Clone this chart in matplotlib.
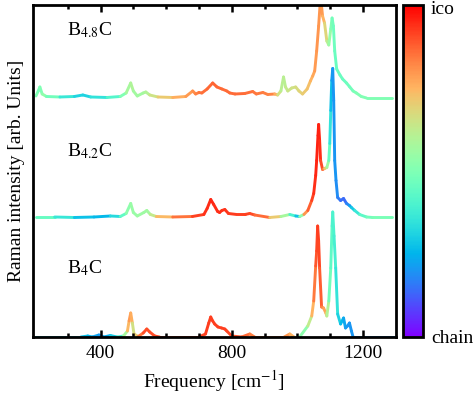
import numpy as np
import matplotlib
matplotlib.use("Agg")
import matplotlib.pyplot as plt
from matplotlib.collections import LineCollection
from matplotlib.colors import Normalize

plt.rcParams["font.family"] = ["Liberation Serif", "DejaVu Serif"]
plt.rcParams["mathtext.fontset"] = "stix"

# spectra: frequency, intensity (arb.), ico/chain character (0 = chain, 1 = ico)
x_b48 = [203, 210, 215, 222, 235, 276, 320, 346, 370, 420, 460, 478, 492, 500, 512, 530, 538, 550, 575,
         620, 660, 681, 690, 700, 709, 725, 742, 755, 770, 785, 794, 810, 840, 864, 875, 895, 910, 931, 940,
         950, 958, 964, 971, 983, 995, 1005, 1016, 1030, 1040, 1047, 1053, 1059, 1065, 1071, 1077, 1083,
         1090, 1096, 1102, 1106, 1110, 1114, 1120, 1130, 1138, 1150, 1160, 1170, 1180, 1195, 1211, 1290]
y_b48 = [0.01, 0.06, 0.10, 0.03, 0.005, 0.0, 0.005, 0.02, 0.0, -0.005, 0.005, 0.04, 0.14, 0.06, 0.01, 0.04,
         0.05, 0.02, 0.0, -0.005, 0.005, 0.06, 0.03, 0.045, 0.04, 0.08, 0.14, 0.10, 0.08, 0.06, 0.04, 0.03,
         0.035, 0.055, 0.03, 0.045, 0.025, 0.03, 0.02, 0.06, 0.20, 0.10, 0.06, 0.09, 0.10, 0.06, 0.03, 0.08,
         0.16, 0.21, 0.26, 0.46, 0.71, 1.0, 0.81, 0.74, 0.56, 0.52, 0.68, 0.79, 0.71, 0.46, 0.28, 0.22, 0.18,
         0.14, 0.10, 0.06, 0.04, 0.005, -0.01, -0.01]
c_b48 = [0.5, 0.5, 0.48, 0.52, 0.55, 0.4, 0.33, 0.3, 0.32, 0.38, 0.45, 0.55, 0.6, 0.58, 0.56, 0.57, 0.58,
         0.62, 0.68, 0.74, 0.78, 0.8, 0.82, 0.84, 0.85, 0.86, 0.87, 0.87, 0.86, 0.86, 0.86, 0.86, 0.86, 0.85,
         0.84, 0.84, 0.83, 0.82, 0.7, 0.62, 0.6, 0.62, 0.64, 0.65, 0.66, 0.68, 0.7, 0.72, 0.74, 0.76, 0.78,
         0.8, 0.8, 0.8, 0.78, 0.72, 0.65, 0.58, 0.52, 0.48, 0.47, 0.46, 0.46, 0.46, 0.46, 0.46, 0.47, 0.48,
         0.5, 0.5, 0.5, 0.5]

x_b42 = [203, 260, 320, 380, 430, 460, 478, 492, 500, 512, 532, 541, 552, 570, 620, 680, 715, 725, 736, 745,
         757, 763, 770, 779, 790, 815, 840, 855, 870, 916, 950, 977, 995, 1007, 1020, 1032, 1044, 1050, 1056,
         1059, 1063, 1065, 1068, 1071, 1077, 1083, 1090, 1096, 1099, 1102, 1105, 1108, 1111, 1114, 1118,
         1123, 1132, 1141, 1150, 1159, 1165, 1175, 1190, 1211, 1229, 1290]
y_b42 = [0.0, 0.0, -0.005, 0.0, 0.01, 0.005, 0.035, 0.135, 0.045, 0.01, 0.045, 0.065, 0.025, 0.005, 0.0,
         0.005, 0.025, 0.085, 0.175, 0.125, 0.055, 0.045, 0.065, 0.075, 0.035, 0.025, 0.025, 0.035, 0.02,
         -0.005, 0.005, 0.025, 0.01, 0.005, 0.025, 0.065, 0.165, 0.235, 0.415, 0.565, 0.815, 0.925, 0.765,
         0.565, 0.475, 0.485, 0.495, 0.565, 0.735, 1.065, 1.365, 1.485, 1.165, 0.565, 0.365, 0.195, 0.165,
         0.185, 0.135, 0.115, 0.095, 0.065, 0.025, 0.0, -0.005, -0.005]
c_b42 = [0.48, 0.42, 0.3, 0.25, 0.27, 0.38, 0.5, 0.55, 0.55, 0.55, 0.56, 0.56, 0.58, 0.68, 0.8, 0.9, 0.93,
         0.94, 0.95, 0.95, 0.94, 0.94, 0.94, 0.93, 0.93, 0.92, 0.92, 0.91, 0.9, 0.82, 0.6, 0.55, 0.25, 0.3,
         0.75, 0.85, 0.9, 0.93, 0.95, 0.95, 0.96, 0.96, 0.95, 0.93, 0.88, 0.8, 0.62, 0.5, 0.4, 0.3, 0.24, 0.2,
         0.2, 0.2, 0.2, 0.18, 0.15, 0.13, 0.15, 0.2, 0.25, 0.33, 0.4, 0.46, 0.48, 0.5]

x_b4 = [195, 340, 361, 375, 395, 410, 430, 450, 470, 482, 487, 492, 497, 502, 515, 530, 541, 550, 565, 580,
        700, 720, 730, 736, 742, 748, 758, 769, 779, 785, 800, 830, 855, 870, 960, 977, 990, 1007, 1032,
        1044, 1050, 1056, 1059, 1062, 1065, 1068, 1074, 1080, 1087, 1090, 1096, 1102, 1106, 1108, 1112,
        1117, 1123, 1132, 1141, 1147, 1153, 1159, 1165, 1170, 1300]
y_b4 = [0.0, 0.0, 0.01, 0.0, 0.02, 0.0, 0.015, 0.0, 0.01, 0.06, 0.16, 0.24, 0.14, 0.03, 0.005, 0.04, 0.08,
        0.05, 0.01, 0.0, 0.0, 0.03, 0.14, 0.20, 0.16, 0.13, 0.10, 0.09, 0.08, 0.06, 0.01, 0.0, 0.03, 0.0,
        0.0, 0.03, 0.0, 0.0, 0.11, 0.21, 0.36, 0.71, 0.86, 1.11, 0.96, 0.69, 0.30, 0.29, 0.24, 0.21, 0.36,
        0.69, 1.11, 1.25, 1.01, 0.69, 0.23, 0.13, 0.19, 0.09, 0.11, 0.14, 0.06, 0.0, 0.0]
c_b4 = [0.3, 0.3, 0.25, 0.25, 0.2, 0.22, 0.25, 0.35, 0.45, 0.7, 0.78, 0.8, 0.72, 0.6, 0.8, 0.9, 0.9, 0.9,
        0.9, 0.9, 0.9, 0.92, 0.92, 0.92, 0.92, 0.92, 0.92, 0.92, 0.92, 0.92, 0.9, 0.88, 0.85, 0.82, 0.8,
        0.8, 0.7, 0.5, 0.55, 0.7, 0.8, 0.88, 0.9, 0.92, 0.92, 0.9, 0.85, 0.8, 0.75, 0.7, 0.5, 0.45, 0.42,
        0.4, 0.4, 0.38, 0.33, 0.28, 0.24, 0.22, 0.2, 0.2, 0.2, 0.2, 0.2]

names = ["B$_{4.8}$C", "B$_{4.2}$C", "B$_4$C"]
offsets = [2.4, 1.2, 0.0]

fig = plt.figure(figsize=(4.74, 3.99), dpi=100)
ax = fig.add_axes([0.0696, 0.1554, 0.7652, 0.8321])
cax = fig.add_axes([0.850, 0.1554, 0.042, 0.8321])

norm = Normalize(0, 1)
cmap = plt.get_cmap("rainbow")

for xs, ys, cs, off in [(x_b48, y_b48, c_b48, offsets[0]),
                        (x_b42, y_b42, c_b42, offsets[1]),
                        (x_b4, y_b4, c_b4, offsets[2])]:
    xs = np.array(xs, float)
    ys = np.array(ys, float) + off
    cs = np.array(cs, float)
    pts = np.column_stack([xs, ys])
    segs = np.stack([pts[:-1], pts[1:]], axis=1)
    lc = LineCollection(segs, cmap=cmap, norm=norm, linewidths=2.1, capstyle="round",
                        joinstyle="round", zorder=1)
    lc.set_array((cs[:-1] + cs[1:]) / 2)
    ax.add_collection(lc)

# sample labels
ax.text(297, 3.02, names[0], fontsize=14)
ax.text(297, 1.81, names[1], fontsize=14)
ax.text(297, 0.64, names[2], fontsize=14)

ax.set_xlim(194, 1300)
ax.set_ylim(0, 3.32)
ax.set_xticks([400, 800, 1200])
ax.set_xticks(np.arange(300, 1300, 100), minor=True)
ax.set_yticks([])
ax.tick_params(axis="x", which="both", direction="in", top=True, labelsize=14, width=1.8, pad=6)
ax.tick_params(axis="x", which="major", length=5)
ax.tick_params(axis="x", which="minor", length=3)
for s in ax.spines.values():
    s.set_linewidth(2)
    s.set_zorder(3)
ax.set_xlabel("Frequency [cm$^{-1}$]", fontsize=14, labelpad=4)
ax.set_ylabel("Raman intensity [arb. Units]", fontsize=14, labelpad=6)

cb = fig.colorbar(plt.cm.ScalarMappable(norm=norm, cmap=cmap), cax=cax)
cb.set_ticks([])
cb.outline.set_linewidth(2)
fig.text(0.908, 0.975, "ico", fontsize=14, va="center")
fig.text(0.910, 0.152, "chain", fontsize=14, va="center")

fig.savefig("out.png", dpi=100)
